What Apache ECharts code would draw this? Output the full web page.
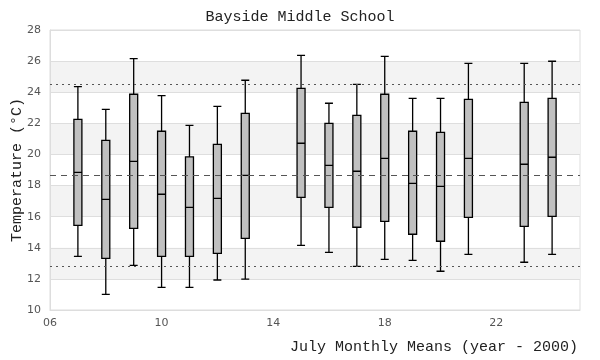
<!DOCTYPE html>
<html>
<head>
<meta charset="utf-8">
<script src="https://cdn.jsdelivr.net/npm/echarts@6/dist/echarts.min.js"></script>
<style>html,body{margin:0;padding:0;background:#fff}#c{width:600px;height:360px}</style>
</head>
<body>
<div id="c"></div>
<script>
const years   = [7, 8, 9, 10, 11, 12, 13, 15, 16, 17, 18, 19, 20, 21, 23, 24];
const lows    = [13.45, 11.01, 12.87, 11.46, 11.46, 11.93, 11.99, 14.16, 13.71, 12.81, 13.26, 13.19, 12.49, 13.58, 13.07, 13.58];
const q1s     = [15.44, 13.32, 15.25, 13.45, 13.45, 13.64, 14.61, 17.24, 16.60, 15.32, 15.70, 14.87, 14.42, 15.96, 15.38, 16.02];
const medians = [18.85, 17.11, 19.56, 17.44, 16.60, 17.18, 18.66, 20.72, 19.30, 18.92, 19.75, 18.14, 17.95, 19.75, 19.37, 19.82];
const q3s     = [22.26, 20.91, 23.87, 21.49, 19.84, 20.65, 22.64, 24.25, 22.00, 22.51, 23.87, 21.49, 21.42, 23.54, 23.35, 23.61];
const highs   = [24.36, 22.90, 26.16, 23.78, 21.87, 23.09, 24.77, 26.37, 23.29, 24.51, 26.31, 23.61, 23.61, 25.86, 25.86, 25.99];
const meanLine  = 18.66;
const upperLine = 24.51;
const lowerLine = 12.81;

const boxData = years.map((y, i) => [y, lows[i], q1s[i], medians[i], q3s[i], highs[i]]);
const mono = '"Liberation Mono", "DejaVu Sans Mono", monospace';

const chart = echarts.init(document.getElementById('c'), null, {renderer: 'canvas'});
chart.setOption({
  animation: false,
  backgroundColor: '#fff',
  title: {
    text: 'Bayside Middle School',
    left: 'center',
    top: 5,
    textStyle: {fontFamily: mono, fontSize: 15, fontWeight: 'normal', color: '#222'}
  },
  grid: {left: 50, right: 20, top: 30, bottom: 50, show: true, borderColor: '#dddddd', borderWidth: 1, containLabel: false, outerBoundsMode: 'none'},
  xAxis: {
    type: 'value',
    min: 6, max: 25, interval: 4,
    name: 'July Monthly Means (year - 2000)',
    nameLocation: 'end',
    nameGap: -2,
    nameMoveOverlap: false,
    nameTextStyle: {fontFamily: mono, fontSize: 15, color: '#222', align: 'right', verticalAlign: 'top', padding: [30, 0, 0, 0]},
    axisLine: {show: true, lineStyle: {color: '#dddddd'}},
    axisTick: {show: false},
    splitLine: {show: false},
    axisLabel: {
      showMaxLabel: false,
      color: '#555', fontSize: 11, fontFamily: '"DejaVu Sans", sans-serif', margin: 8,
      formatter: v => String(v).padStart(2, '0')
    }
  },
  yAxis: {
    type: 'value',
    min: 10, max: 28, interval: 2,
    name: 'Temperature (°C)',
    nameLocation: 'middle',
    nameGap: 25,
    nameMoveOverlap: false,
    nameTextStyle: {fontFamily: mono, fontSize: 15, color: '#222'},
    axisLine: {show: true, lineStyle: {color: '#dddddd'}},
    axisTick: {show: false},
    axisLabel: {color: '#555', fontSize: 11, fontFamily: '"DejaVu Sans", sans-serif', margin: 9},
    splitLine: {show: true, lineStyle: {color: '#dedede'}},
    splitArea: {show: true, areaStyle: {color: ['rgba(255,255,255,0)', '#f3f3f3']}}
  },
  series: [
    {
      type: 'boxplot',
      data: boxData,
      boxWidth: [8, 8],
      itemStyle: {color: '#c0c0c0', borderColor: '#000', borderWidth: 1.3},
      emphasis: {disabled: true}
    },
    {
      type: 'line',
      data: [],
      silent: true,
      markLine: {
        silent: true,
        symbol: 'none',
        label: {show: false},
        data: [
          {yAxis: meanLine, lineStyle: {type: [6, 5], color: '#555', width: 1}},
          {yAxis: upperLine, lineStyle: {type: [2, 4], color: '#555', width: 1}},
          {yAxis: lowerLine, lineStyle: {type: [2, 4], color: '#555', width: 1}}
        ]
      }
    }
  ]
});
</script>
</body>
</html>
